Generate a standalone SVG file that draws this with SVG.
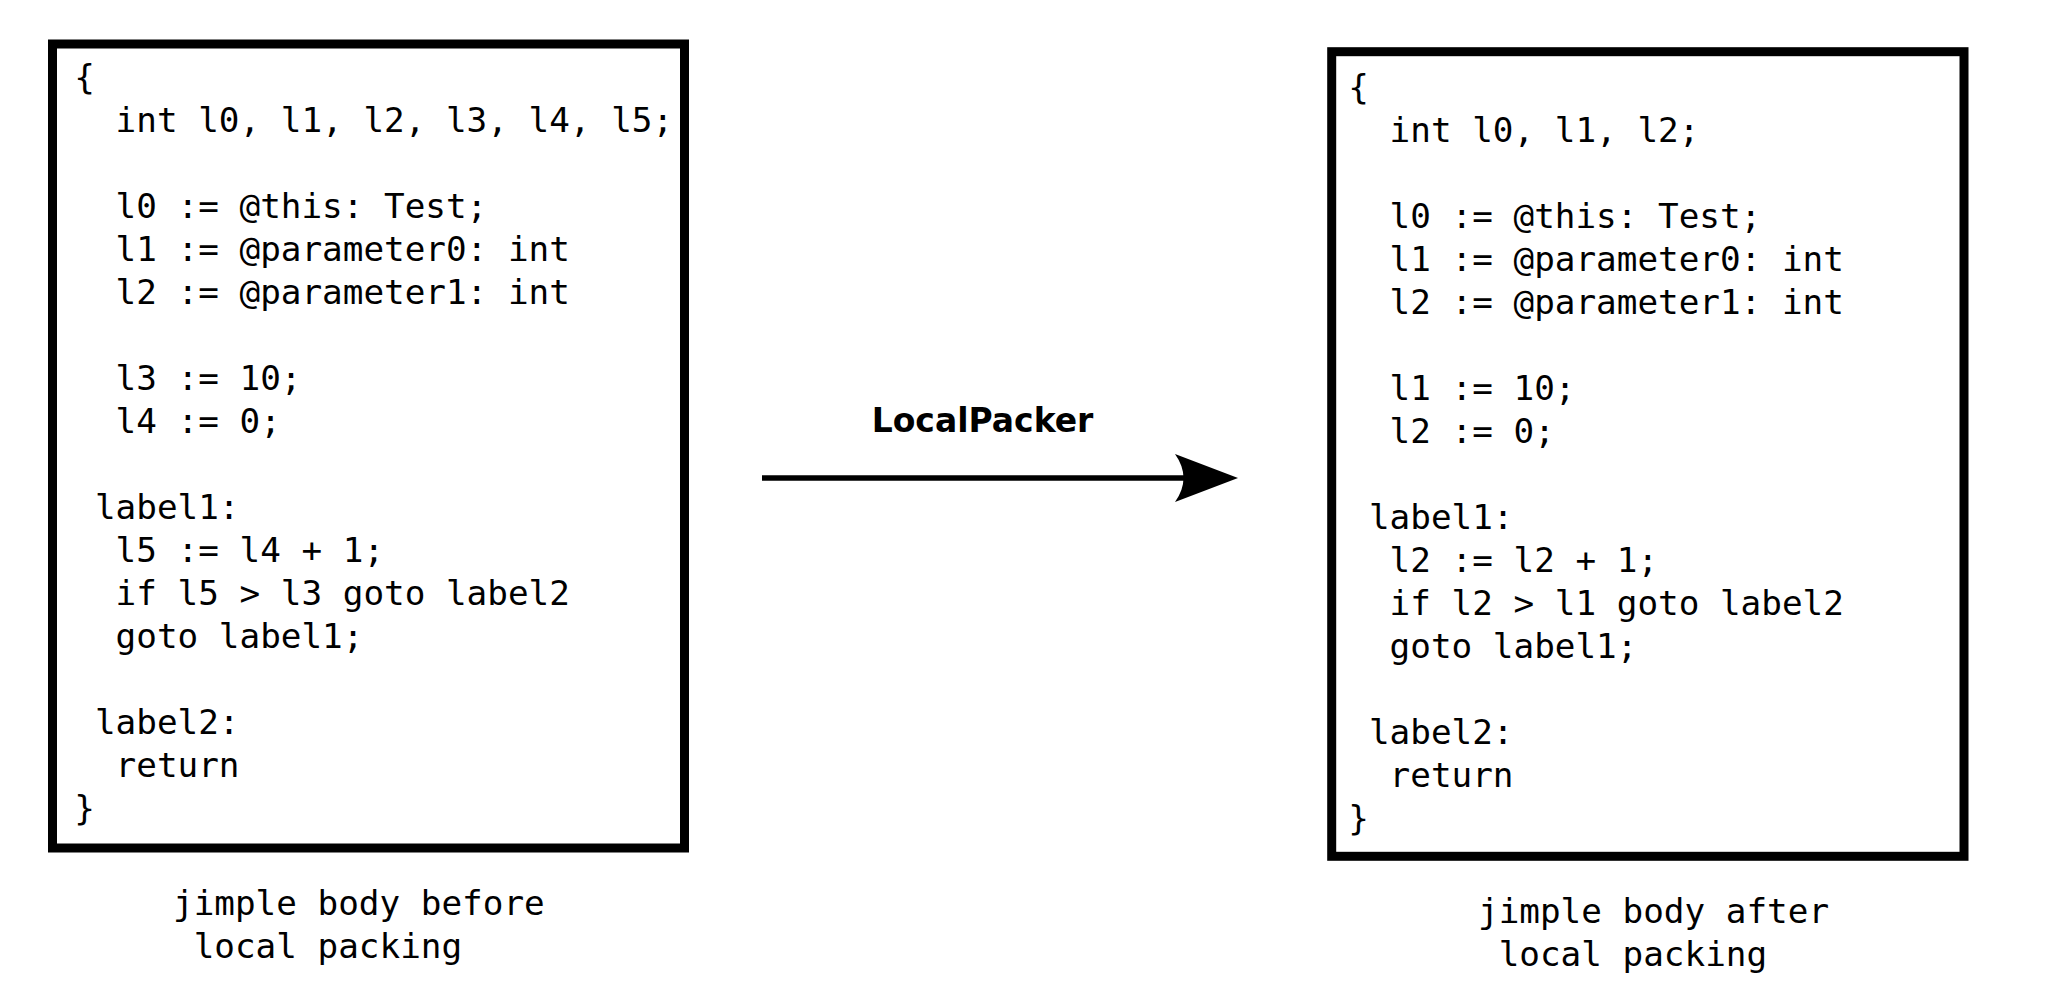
<svg xmlns="http://www.w3.org/2000/svg" width="2062" height="1008" viewBox="0 0 2062 1008">
<style>
  .box { fill: #ffffff; stroke: #000000; stroke-width: 9; }
  .code { font-family: "DejaVu Sans Mono", "Liberation Mono", monospace; font-size: 34.3px; fill: #000000; white-space: pre; }
  .caption { font-family: "DejaVu Sans Mono", "Liberation Mono", monospace; font-size: 34.3px; fill: #000000; white-space: pre; }
  .title { font-family: "DejaVu Sans", "Liberation Sans", sans-serif; font-weight: bold; font-size: 33px; fill: #000000; }
  .conn { stroke: #000000; stroke-width: 5.5; fill: none; }
</style>
<defs>
  <marker id="arrowhead" markerUnits="userSpaceOnUse" markerWidth="70" markerHeight="54" refX="10" refY="24" orient="auto">
    <path d="M0,0 L63,24 L0,48 Q17,24 0,0 Z" fill="#000000"/>
  </marker>
</defs>
<rect width="2062" height="1008" fill="#ffffff"/>

<g id="before-body">
  <rect class="box" x="52.5" y="44" width="632" height="804"/>
  <text class="code" xml:space="preserve" x="74.3" y="89">{</text>
  <text class="code" xml:space="preserve" x="74.3" y="132">  int l0, l1, l2, l3, l4, l5;</text>
  <text class="code" xml:space="preserve" x="74.3" y="218">  l0 := @this: Test;</text>
  <text class="code" xml:space="preserve" x="74.3" y="261">  l1 := @parameter0: int</text>
  <text class="code" xml:space="preserve" x="74.3" y="304">  l2 := @parameter1: int</text>
  <text class="code" xml:space="preserve" x="74.3" y="390">  l3 := 10;</text>
  <text class="code" xml:space="preserve" x="74.3" y="433">  l4 := 0;</text>
  <text class="code" xml:space="preserve" x="74.3" y="519"> label1:</text>
  <text class="code" xml:space="preserve" x="74.3" y="562">  l5 := l4 + 1;</text>
  <text class="code" xml:space="preserve" x="74.3" y="605">  if l5 &gt; l3 goto label2</text>
  <text class="code" xml:space="preserve" x="74.3" y="648">  goto label1;</text>
  <text class="code" xml:space="preserve" x="74.3" y="734"> label2:</text>
  <text class="code" xml:space="preserve" x="74.3" y="777">  return</text>
  <text class="code" xml:space="preserve" x="74.3" y="820">}</text>
</g>

<g id="before-caption">
  <text class="caption" xml:space="preserve" x="173" y="915">jimple body before</text>
  <text class="caption" xml:space="preserve" x="173" y="958"> local packing</text>
</g>

<g id="after-body">
  <rect class="box" x="1331.7" y="51.7" width="632.3" height="804.6"/>
  <text class="code" xml:space="preserve" x="1348.3" y="99">{</text>
  <text class="code" xml:space="preserve" x="1348.3" y="142">  int l0, l1, l2;</text>
  <text class="code" xml:space="preserve" x="1348.3" y="228">  l0 := @this: Test;</text>
  <text class="code" xml:space="preserve" x="1348.3" y="271">  l1 := @parameter0: int</text>
  <text class="code" xml:space="preserve" x="1348.3" y="314">  l2 := @parameter1: int</text>
  <text class="code" xml:space="preserve" x="1348.3" y="400">  l1 := 10;</text>
  <text class="code" xml:space="preserve" x="1348.3" y="443">  l2 := 0;</text>
  <text class="code" xml:space="preserve" x="1348.3" y="529"> label1:</text>
  <text class="code" xml:space="preserve" x="1348.3" y="572">  l2 := l2 + 1;</text>
  <text class="code" xml:space="preserve" x="1348.3" y="615">  if l2 &gt; l1 goto label2</text>
  <text class="code" xml:space="preserve" x="1348.3" y="658">  goto label1;</text>
  <text class="code" xml:space="preserve" x="1348.3" y="744"> label2:</text>
  <text class="code" xml:space="preserve" x="1348.3" y="787">  return</text>
  <text class="code" xml:space="preserve" x="1348.3" y="830">}</text>
</g>

<g id="after-caption">
  <text class="caption" xml:space="preserve" x="1478" y="923">jimple body after</text>
  <text class="caption" xml:space="preserve" x="1478" y="966"> local packing</text>
</g>

<g id="connectors">
  <line class="conn" x1="762" y1="478" x2="1185" y2="478" marker-end="url(#arrowhead)"/>
  <text class="title" x="982.5" y="432" text-anchor="middle">LocalPacker</text>
</g>
</svg>
